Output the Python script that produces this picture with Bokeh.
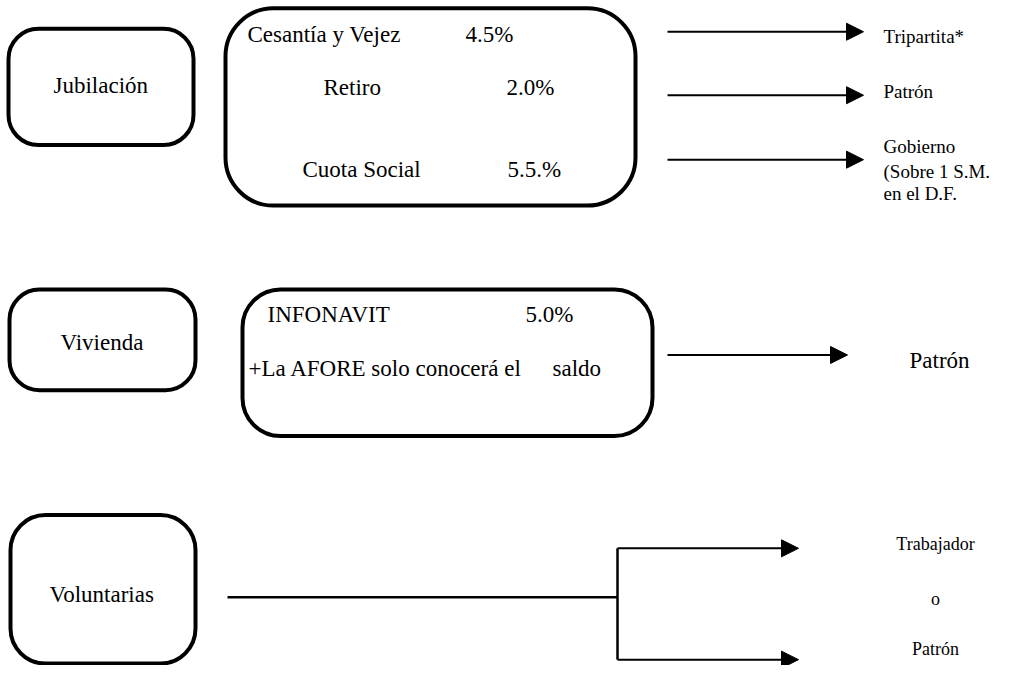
from bokeh.plotting import figure
from bokeh.models import ColumnDataSource, Range1d, Arrow, NormalHead
from bokeh.core.properties import value
from bokeh.embed import file_html
from bokeh.resources import INLINE

# ---- rounded boxes (reference-pixel coordinates, y grows downward) ----
box_names = ["Jubilación", "Jubilación detalle", "Vivienda", "Vivienda detalle", "Voluntarias"]
box_left = [8, 225, 9, 242, 10]
box_right = [193, 635, 195, 652, 195]
box_top = [29, 8, 296, 296, 527]
box_bottom = [148, 210, 399, 446, 679]
box_radius = [30, 48, 30, 38, 35]

# ---- large labels ----
big_text = ["Jubilación", "Cesantía y Vejez", "4.5%", "Retiro", "2.0%", "Cuota Social", "5.5.%",
            "Vivienda", "INFONAVIT", "5.0%", "+La AFORE solo conocerá el", "saldo",
            "Patrón", "Voluntarias"]
big_x = [53, 247, 465, 323, 506, 302, 507, 60, 267, 525, 248, 552, 909, 49]
big_y = [87, 35, 35, 89, 89, 173, 173, 350, 322, 322, 377, 377, 369, 608]

# ---- small labels at right ----
small_text = ["Tripartita*", "Patrón", "Gobierno", "(Sobre 1 S.M.", "en el D.F."]
small_x = [883, 883, 883, 883, 883]
small_y = [37, 93, 150, 175, 198]

vol_text = ["Trabajador", "o", "Patrón"]
vol_x = [935, 935, 935]
vol_y = [557, 613, 664]

# ---- arrows ----
arr_x0 = [667, 667, 667, 667, 617, 617]
arr_x1 = [863, 863, 863, 847, 798, 798]
arr_y0 = [32, 97, 163, 363, 561, 675]
arr_y1 = [32, 97, 163, 363, 561, 675]

# ---- plain connector lines (Voluntarias) ----
ln_x0 = [227, 617]
ln_x1 = [617, 617]
ln_y0 = [611, 561]
ln_y1 = [611, 675]

W, H = 1009, 665
p = figure(width=W, height=H, output_backend="svg", toolbar_location=None,
           x_axis_type=None, y_axis_type=None,
           x_range=Range1d(0, W), y_range=Range1d(681, 0),
           min_border=0, outline_line_color=None)
p.grid.visible = False
p.background_fill_color = "white"

for i in range(len(box_names)):
    p.quad(left=[box_left[i]], right=[box_right[i]], top=[box_top[i]], bottom=[box_bottom[i]],
           border_radius=box_radius[i], fill_color=None, line_color="black", line_width=4)

p.segment(x0=ln_x0, y0=ln_y0, x1=ln_x1, y1=ln_y1, line_color="black", line_width=2.5)

asrc = ColumnDataSource(dict(x0=arr_x0, x1=arr_x1, y0=arr_y0, y1=arr_y1))
p.add_layout(Arrow(source=asrc, x_start="x0", y_start="y0", x_end="x1", y_end="y1",
                   line_color="black", line_width=2,
                   end=NormalHead(size=17, fill_color="black", line_color="black", line_width=1)))

font = value("Liberation Serif")
p.text(x=big_x, y=big_y, text=big_text, text_font=font, text_font_size=value("23px"),
       text_baseline="alphabetic", text_align="left", text_color="black")
p.text(x=small_x, y=small_y, text=small_text, text_font=font, text_font_size=value("19px"),
       text_baseline="alphabetic", text_align="left", text_color="black")
p.text(x=vol_x, y=vol_y, text=vol_text, text_font=font, text_font_size=value("18px"),
       text_baseline="alphabetic", text_align="center", text_color="black")

open("out.html", "w").write(file_html(p, INLINE))
